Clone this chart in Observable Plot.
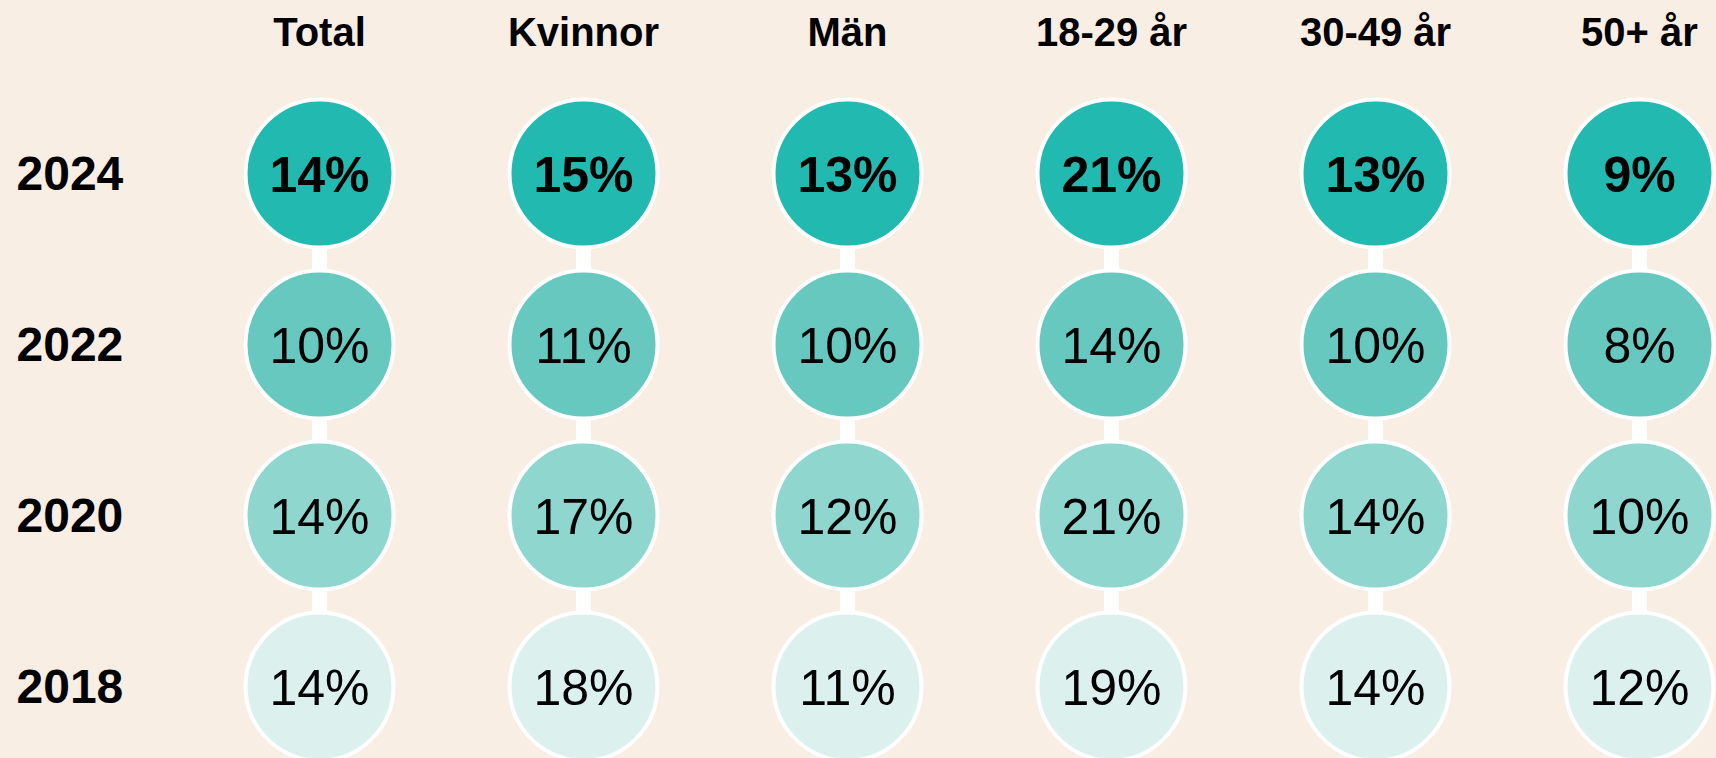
<!DOCTYPE html>
<html>
<head>
<meta charset="utf-8">
<script src="https://cdn.jsdelivr.net/npm/d3@7"></script>
<script src="https://cdn.jsdelivr.net/npm/@observablehq/plot@0.6"></script>
<style>
  html, body { margin: 0; padding: 0; background: #F8EEE4; overflow: hidden; }
</style>
</head>
<body>
<div id="chart"></div>
<script>
const categories = ["Total", "Kvinnor", "Män", "18-29 år", "30-49 år", "50+ år"];
const years = [2024, 2022, 2020, 2018];
const values2024 = [14, 15, 13, 21, 13, 9];
const values2022 = [10, 11, 10, 14, 10, 8];
const values2020 = [14, 17, 12, 21, 14, 10];
const values2018 = [14, 18, 11, 19, 14, 12];
const yearColors = ["#22BAB0", "#66C8BE", "#8FD6CE", "#DCF1EE"];

const series = [values2024, values2022, values2020, values2018];
const data = [];
years.forEach((yr, i) => {
  categories.forEach((c, j) => data.push({year: yr, group: c, value: series[i][j]}));
});

const font = "'Liberation Sans', Arial, sans-serif";

const chart = Plot.plot({
  width: 1716,
  height: 758,
  margin: 0,
  style: { background: "#F8EEE4", fontFamily: font, color: "#000" },
  x: { type: "point", domain: categories, range: [318, 1640], padding: 0, axis: null },
  y: { type: "point", domain: years, range: [172, 687], padding: 0, axis: null },
  color: { type: "ordinal", domain: years, range: yearColors },
  marks: [
    Plot.ruleX(categories, { x: d => d, y1: () => years[0], y2: () => years[years.length - 1], stroke: "#FFFFFF", strokeWidth: 15 }),
    Plot.dot(data, { x: "group", y: "year", r: 74, fill: "year", stroke: "#FFFFFF", strokeWidth: 4 }),
    Plot.text(data.filter(d => d.year === years[0]), { x: "group", y: "year", text: d => d.value + "%", fontSize: 50, fontWeight: "bold", fill: "#000", dy: 2 }),
    Plot.text(data.filter(d => d.year !== years[0]), { x: "group", y: "year", text: d => d.value + "%", fontSize: 50, fontWeight: "normal", fill: "#000", dy: 2 }),
    Plot.text(categories, { x: d => d, frameAnchor: "top", lineAnchor: "middle", dy: 33, text: d => d, fontSize: 40, fontWeight: "bold", fill: "#000" }),
    Plot.text(years, { y: d => d, frameAnchor: "left", dx: 16, textAnchor: "start", text: d => String(d), fontSize: 48, fontWeight: "bold", fill: "#000", dy: 1 })
  ]
});
document.getElementById("chart").appendChild(chart);
</script>
</body>
</html>
